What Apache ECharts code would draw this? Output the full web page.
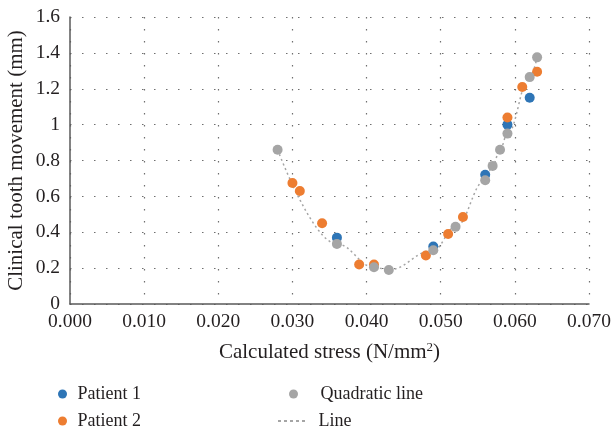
<!DOCTYPE html>
<html>
<head>
<meta charset="utf-8">
<script src="https://cdn.jsdelivr.net/npm/echarts@6/dist/echarts.min.js"></script>
<style>
  html, body { margin: 0; padding: 0; background: #fff; }
  #chart { width: 615px; height: 429px; }
</style>
</head>
<body>
<div id="chart"></div>
<script>
// stress (N/mm2) and clinical tooth movement (mm)
const patient1Stress = [0.036, 0.049, 0.056, 0.059, 0.062]
const patient1Move = [0.37, 0.32, 0.72, 1.0, 1.15]

const patient2Stress = [0.030, 0.031, 0.034, 0.039, 0.041, 0.048, 0.051, 0.053, 0.059, 0.061, 0.063]
const patient2Move = [0.675, 0.63, 0.45, 0.22, 0.22, 0.27, 0.39, 0.485, 1.04, 1.21, 1.295]

const quadStress = [0.028, 0.036, 0.041, 0.043, 0.049, 0.052, 0.056, 0.057, 0.058, 0.059, 0.062, 0.063]
const quadMove = [0.86, 0.335, 0.205, 0.19, 0.30, 0.43, 0.69, 0.77, 0.86, 0.95, 1.265, 1.375]

const zip = (xs, ys) => xs.map((x, i) => [x, ys[i]])

const font = 'Liberation Serif'
const textColor = '#231f20'
const gridLine = { show: true, lineStyle: { color: '#6f6f6f', type: [1.5, 10.5], width: 1.2 } }
const legendText = { fontFamily: font, fontSize: 18, color: textColor }
// dotted stroke for the "Line" legend entry
const dotIcon = 'path://M0,0h3v2h-3zM6,0h3v2h-3zM12,0h3v2h-3zM18,0h3v2h-3zM24,0h3v2h-3z'

const chart = echarts.init(document.getElementById('chart'))
chart.setOption({
  animation: false,
  textStyle: { fontFamily: font, color: textColor },
  grid: { left: 70, right: 26, top: 17, bottom: 125, outerBoundsMode: 'none', containLabel: false },
  xAxis: {
    type: 'value',
    min: 0,
    max: 0.07,
    interval: 0.01,
    name: 'Calculated stress (N/mm{sup|2})',
    nameLocation: 'middle',
    nameGap: 37,
    nameTextStyle: {
      fontFamily: font,
      fontSize: 21,
      color: textColor,
      rich: { sup: { fontFamily: font, fontSize: 13, color: textColor, verticalAlign: 'top', padding: [0, 0, 10, 0] } }
    },
    axisLine: { show: true, lineStyle: { color: '#5a5a5a', width: 1.5 } },
    axisTick: { show: false },
    axisLabel: {
      fontFamily: font,
      fontSize: 19.5,
      color: textColor,
      margin: 8,
      formatter: v => v.toFixed(3)
    },
    splitLine: gridLine
  },
  yAxis: {
    type: 'value',
    min: 0,
    max: 1.6,
    interval: 0.2,
    name: 'Clinical tooth movement (mm)',
    nameLocation: 'middle',
    nameGap: 43,
    nameMoveOverlap: false,
    nameTextStyle: { fontFamily: font, fontSize: 21, color: textColor },
    axisLine: { show: true, lineStyle: { color: '#5a5a5a', width: 1.5 } },
    axisTick: { show: false },
    axisLabel: { fontFamily: font, fontSize: 19.5, color: textColor, margin: 10 },
    splitLine: gridLine
  },
  legend: [
    { left: 53, top: 380, itemWidth: 20, itemHeight: 9, textStyle: legendText, data: [{ name: 'Patient 1', icon: 'circle' }] },
    { left: 53, top: 407, itemWidth: 20, itemHeight: 9, textStyle: legendText, data: [{ name: 'Patient 2', icon: 'circle' }] },
    { left: 284, top: 380, itemWidth: 30, itemHeight: 9, textStyle: { ...legendText, padding: [0, 0, 0, 7] }, data: [{ name: 'Quadratic line', icon: 'circle' }] },
    { left: 273, top: 407, itemWidth: 30, itemHeight: 2, textStyle: { ...legendText, padding: [0, 0, 0, 7] }, data: [{ name: 'Line', icon: dotIcon }] }
  ],
  series: [
    {
      name: 'Line',
      type: 'line',
      data: zip(quadStress, quadMove),
      smooth: 0.4,
      smoothMonotone: 'x',
      showSymbol: false,
      symbol: 'none',
      z: 1,
      color: '#a5a5a5',
      lineStyle: { color: '#a5a5a5', type: [2, 3], width: 1.5 }
    },
    {
      name: 'Patient 1',
      type: 'scatter',
      data: zip(patient1Stress, patient1Move),
      symbolSize: 10,
      z: 2,
      itemStyle: { color: '#2e75b6', opacity: 1 }
    },
    {
      name: 'Patient 2',
      type: 'scatter',
      data: zip(patient2Stress, patient2Move),
      symbolSize: 10,
      z: 3,
      itemStyle: { color: '#ed7d31', opacity: 1 }
    },
    {
      name: 'Quadratic line',
      type: 'scatter',
      data: zip(quadStress, quadMove),
      symbolSize: 10,
      z: 4,
      itemStyle: { color: '#a5a5a5', opacity: 1 }
    }
  ]
})
</script>
</body>
</html>
